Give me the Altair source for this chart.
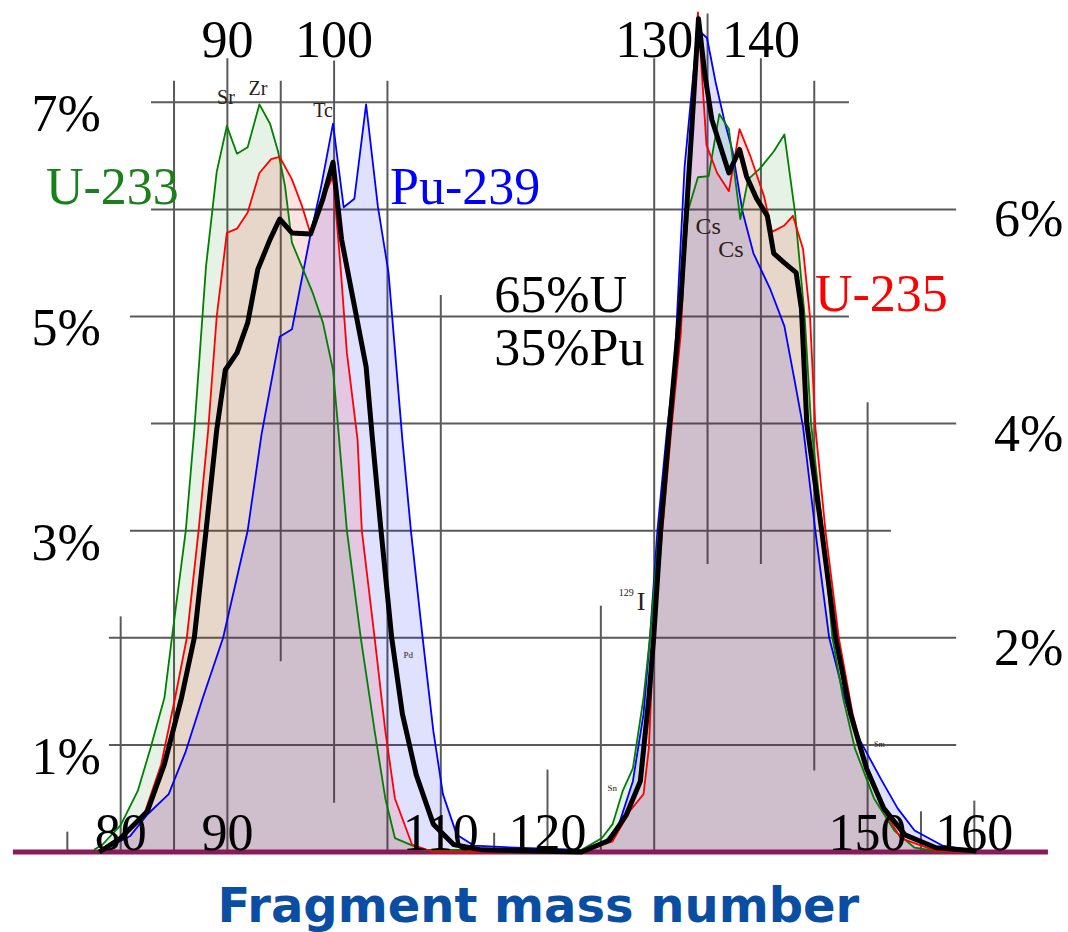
import altair as alt
import pandas as pd

# ---------------- data (mass number, cumulative yield %) ----------------
u233_m = [77.5, 78.3, 80.0, 81.6, 82.8, 84.1, 84.8, 86.1, 86.9, 88.0, 89.0, 89.95, 90.9, 91.9, 93.0,
          94.0, 94.75, 95.4, 96.05, 98.0, 98.96, 99.9, 100.4, 101.2, 102.5, 103.8, 104.8, 105.7, 108.3,
          123.2, 125.1, 126.1, 127.05, 128.0, 129.0, 129.6, 130.45, 131.5, 132.4, 133.2, 134.1, 135.1,
          136.1, 137.0, 138.07, 138.8, 139.9, 141.2, 142.2, 143.2, 144.1, 144.7, 145.8, 146.7, 147.7,
          148.8, 150.6, 152.5, 154.4, 157.0]
u233_y = [0.02, 0.07, 0.25, 0.57, 0.97, 1.44, 2.0, 3.0, 3.94, 5.47, 6.35, 6.78, 6.52, 6.58, 6.98,
          6.8, 6.54, 6.22, 5.69, 5.22, 4.94, 4.5, 3.94, 3.0, 2.0, 1.13, 0.5, 0.13, 0.02,
          0.02, 0.13, 0.26, 0.57, 0.78, 1.44, 2.0, 3.0, 4.0, 5.0, 6.0, 6.3, 6.31,
          6.89, 6.75, 5.91, 6.28, 6.38, 6.54, 6.7, 5.97, 5.0, 4.0, 3.0, 2.0, 1.44,
          0.97, 0.5, 0.2, 0.04, 0.0]

u235_m = [78.0, 80.0, 82.2, 83.8, 85.1, 86.2, 87.3, 88.2, 89.0, 89.95, 90.9, 91.9, 93.0, 94.1, 94.9,
          96.05, 97.0, 97.8, 98.96, 99.9, 100.6, 101.2, 102.2, 102.6, 103.8, 104.8, 105.7, 107.3, 109.3,
          123.2, 126.1, 127.7, 129.0, 129.5, 129.95, 130.76, 131.6, 132.5, 133.4, 134.1, 134.9, 135.9,
          137.0, 138.0, 139.0, 140.3, 141.05, 142.2, 143.0, 143.95, 144.6, 145.1, 146.05, 147.3, 148.6,
          149.75, 151.2, 153.1, 156.4, 159.0]
u235_y = [0.01, 0.13, 0.35, 0.82, 1.44, 2.0, 3.0, 3.94, 5.0, 5.78, 5.82, 5.97, 6.34, 6.47, 6.49,
          6.28, 6.03, 5.77, 6.1, 6.31, 5.47, 4.66, 3.85, 3.0, 2.0, 1.13, 0.5, 0.07, 0.0,
          0.0, 0.1, 0.38, 0.54, 0.97, 2.0, 3.0, 3.94, 4.85, 6.72, 7.84, 6.6, 6.34,
          6.17, 6.75, 6.5, 6.12, 5.79, 5.85, 5.94, 5.63, 5.0, 3.97, 3.0, 2.0, 1.29,
          0.85, 0.44, 0.13, 0.01, 0.0]

pu239_m = [78.0, 80.9, 82.5, 84.5, 86.1, 87.7, 89.6, 91.9, 93.2, 94.9, 96.05, 97.7, 98.8, 99.9,
           100.9, 101.9, 103.0, 104.1, 105.1, 106.4, 107.2, 108.3, 109.3, 110.2, 111.5, 113.1, 117.0,
           123.2, 125.45, 126.7, 128.0, 129.0, 129.6, 130.3, 131.2, 131.9, 132.85, 133.8, 134.3,
           134.95, 135.75, 136.55, 137.35, 138.3, 139.3, 140.9, 142.2, 143.2, 143.95, 145.1, 146.4,
           148.0, 149.3, 151.2, 152.8, 154.4, 157.0, 160.2]
pu239_y = [0.0, 0.15, 0.35, 0.54, 0.94, 1.44, 2.0, 3.0, 3.9, 4.81, 4.88, 5.72, 6.22, 6.8,
           6.02, 6.1, 6.98, 6.03, 5.41, 3.85, 3.0, 2.0, 1.13, 0.54, 0.16, 0.06, 0.04,
           0.02, 0.1, 0.26, 0.66, 1.29, 2.0, 3.0, 3.94, 4.54, 6.4, 7.4, 7.66,
           7.6, 7.19, 6.84, 6.54, 5.97, 5.59, 5.25, 4.91, 4.38, 3.97, 3.0, 2.0,
           1.38, 1.04, 0.69, 0.41, 0.2, 0.06, 0.01]

mix_m = [78.0, 80.0, 82.5, 84.1, 85.7, 86.9, 88.0, 89.0, 89.8, 90.9, 91.9, 92.85, 94.0, 94.9, 96.05,
         97.8, 98.96, 99.9, 100.7, 101.9, 103.0, 103.6, 104.4, 105.4, 106.4, 107.7, 109.3, 111.2, 113.8,
         123.2, 125.8, 127.4, 128.7, 129.5, 129.95, 130.6, 131.4, 132.5, 133.5, 134.15, 134.76, 135.4,
         136.2, 137.0, 138.0, 138.65, 139.6, 140.6, 141.2, 142.2, 143.3, 143.8, 144.3, 145.7, 147.0,
         148.4, 149.9, 151.5, 153.5, 156.4, 160.2]
mix_y = [0.0, 0.13, 0.38, 0.82, 1.44, 2.0, 3.0, 3.94, 4.5, 4.66, 4.94, 5.44, 5.72, 5.91, 5.78,
         5.77, 6.1, 6.44, 5.72, 5.1, 4.53, 3.85, 3.0, 2.0, 1.29, 0.72, 0.26, 0.07, 0.02,
         0.0, 0.11, 0.35, 0.66, 1.44, 2.0, 3.0, 3.94, 5.16, 6.72, 7.78, 7.25, 6.84,
         6.59, 6.34, 6.56, 6.31, 6.1, 5.94, 5.59, 5.5, 5.41, 5.07, 4.0, 3.0, 2.0,
         1.29, 0.78, 0.41, 0.16, 0.04, 0.01]

# grid segments drawn in the figure
vgrid_m = [75, 80, 85, 90, 95, 100, 105, 110, 115, 120, 125, 130, 135, 140, 145, 150, 155, 160]
vgrid_top = [0.19, 2.2, 7.2, 7.41, 7.2, 7.39, 7.2, 5.2, 0.18, 0.77, 2.3, 7.41, 7.83, 7.41, 7.2, 4.2, 0.38, 0.48]
vgrid_bot = [0, 0, 0, 0, 1.78, 0.46, 0, 0, 0, 0, 0, 0, 2.69, 2.69, 0.76, 0, 0, 0]

hgrid_y = [7, 6, 5, 4, 3, 2, 1]
hgrid_from = [82.84, 82.84, 80.87, 82.84, 80.87, 78.9, 78.9]
hgrid_to = [148.25, 158.3, 148.25, 158.3, 152.2, 158.3, 158.3]

baseline_from = [69.9]
baseline_to = [166.9]

# tick labels
top_ticks = [90, 100, 130, 140]
bottom_ticks = [80, 90, 110, 120, 150, 160]
left_ticks = [7, 5, 3, 1]
right_ticks = [6, 4, 2]
top_label_level = 7.42
bottom_label_level = 0.02
left_label_pos = 78.15
right_label_pos = 161.85

# series name labels
name_text = ["U-233", "Pu-239", "U-235", "65%U", "35%Pu"]
name_m = [73.0, 105.24, 145.07, 115.0, 115.0]
name_y = [6.05, 6.05, 5.05, 5.04, 4.55]
name_color = ["#1a801a", "#0000ff", "#ff0000", "#000000", "#000000"]

# nuclide annotations
nuc_text = ["Sr", "Zr", "Tc", "Cs", "Cs", "I", "129", "Pd", "Sn", "Sm"]
nuc_m = [89.87, 92.87, 98.96, 135.05, 137.2, 128.77, 127.37, 106.94, 126.06, 151.1]
nuc_y = [6.98, 7.07, 6.86, 5.77, 5.56, 2.26, 2.39, 1.81, 0.57, 0.98]
nuc_size = [20, 20, 20, 24, 24, 26, 10, 9, 9, 8]

title_text = ["Fragment mass number"]
title_m = [119.15]
title_y = [-0.654]

# ---------------- chart ----------------
W, H = 1068, 932
xs = alt.Scale(domain=[68.69, 168.78], nice=False, zero=False)
ys = alt.Scale(domain=[-0.747, 7.955], nice=False, zero=False)


def series_df(m, y):
    return pd.DataFrame({"m": m, "y": y})


def area(m, y, color, op):
    return alt.Chart(series_df(m, y)).mark_area(color=color, opacity=op, line=False).encode(
        x=alt.X("m:Q", scale=xs, axis=None), y=alt.Y("y:Q", scale=ys, axis=None))


def line(m, y, color, w):
    return alt.Chart(series_df(m, y)).mark_line(color=color, strokeWidth=w, strokeJoin="round").encode(
        x=alt.X("m:Q", scale=xs, axis=None), y=alt.Y("y:Q", scale=ys, axis=None))


vgrid = alt.Chart(pd.DataFrame({"m": vgrid_m, "top": vgrid_top, "bot": vgrid_bot})).mark_rule(
    color="#5a5a5a", strokeWidth=2).encode(
    x=alt.X("m:Q", scale=xs, axis=None), y=alt.Y("top:Q", scale=ys, axis=None), y2="bot:Q")

hgrid = alt.Chart(pd.DataFrame({"y": hgrid_y, "a": hgrid_from, "b": hgrid_to})).mark_rule(
    color="#5a5a5a", strokeWidth=2).encode(
    y=alt.Y("y:Q", scale=ys, axis=None), x=alt.X("a:Q", scale=xs, axis=None), x2="b:Q")

base = alt.Chart(pd.DataFrame({"a": baseline_from, "b": baseline_to, "y": [0]})).mark_rule(
    color="#8a1a5a", strokeWidth=5).encode(
    y=alt.Y("y:Q", scale=ys, axis=None), x=alt.X("a:Q", scale=xs, axis=None), x2="b:Q")

serif = "Liberation Serif"

top_lbl = alt.Chart(pd.DataFrame({"m": top_ticks, "y": [top_label_level] * len(top_ticks)})).mark_text(
    font=serif, fontSize=52, align="center", baseline="alphabetic", color="#000000").encode(
    x=alt.X("m:Q", scale=xs, axis=None), y=alt.Y("y:Q", scale=ys, axis=None), text="m:Q")

bot_lbl = alt.Chart(pd.DataFrame({"m": bottom_ticks, "y": [bottom_label_level] * len(bottom_ticks)})).mark_text(
    font=serif, fontSize=52, align="center", baseline="alphabetic", color="#000000").encode(
    x=alt.X("m:Q", scale=xs, axis=None), y=alt.Y("y:Q", scale=ys, axis=None), text="m:Q")

left_df = pd.DataFrame({"y": left_ticks, "m": [left_label_pos] * len(left_ticks),
                        "t": [f"{v}%" for v in left_ticks]})
left_lbl = alt.Chart(left_df).mark_text(
    font=serif, fontSize=52, align="right", baseline="alphabetic", dy=29, color="#000000").encode(
    x=alt.X("m:Q", scale=xs, axis=None), y=alt.Y("y:Q", scale=ys, axis=None), text="t:N")

right_df = pd.DataFrame({"y": right_ticks, "m": [right_label_pos] * len(right_ticks),
                         "t": [f"{v}%" for v in right_ticks]})
right_lbl = alt.Chart(right_df).mark_text(
    font=serif, fontSize=52, align="left", baseline="alphabetic", dy=27, color="#000000").encode(
    x=alt.X("m:Q", scale=xs, axis=None), y=alt.Y("y:Q", scale=ys, axis=None), text="t:N")

names = alt.Chart(pd.DataFrame({"t": name_text, "m": name_m, "y": name_y, "c": name_color})).mark_text(
    font=serif, fontSize=52, align="left", baseline="alphabetic").encode(
    x=alt.X("m:Q", scale=xs, axis=None), y=alt.Y("y:Q", scale=ys, axis=None), text="t:N",
    color=alt.Color("c:N", scale=None))

nucs = alt.Chart(pd.DataFrame({"t": nuc_text, "m": nuc_m, "y": nuc_y, "s": nuc_size})).mark_text(
    font=serif, align="center", baseline="alphabetic", color="#2a2018").encode(
    x=alt.X("m:Q", scale=xs, axis=None), y=alt.Y("y:Q", scale=ys, axis=None), text="t:N",
    size=alt.Size("s:Q", scale=None))

title = alt.Chart(pd.DataFrame({"t": title_text, "m": title_m, "y": title_y})).mark_text(
    font="DejaVu Sans", fontWeight="bold", fontSize=48, align="center", baseline="alphabetic",
    color="#0a4ea3").encode(
    x=alt.X("m:Q", scale=xs, axis=None), y=alt.Y("y:Q", scale=ys, axis=None), text="t:N")

chart = alt.layer(
    vgrid, hgrid,
    area(pu239_m, pu239_y, "#0000ff", 0.12),
    area(u233_m, u233_y, "#008000", 0.10),
    area(u235_m, u235_y, "#ff0000", 0.11),
    base,
    line(pu239_m, pu239_y, "#0000ff", 1.8),
    line(u233_m, u233_y, "#008000", 1.8),
    line(u235_m, u235_y, "#ff0000", 1.8),
    line(mix_m, mix_y, "#000000", 5),
    top_lbl, bot_lbl, left_lbl, right_lbl, names, nucs, title,
).properties(
    width=W, height=H, autosize=alt.AutoSizeParams(type="none"), padding=0, background="white"
).configure_view(strokeWidth=0)

chart.save("out.html", embed_options={"renderer": "svg", "actions": False})
